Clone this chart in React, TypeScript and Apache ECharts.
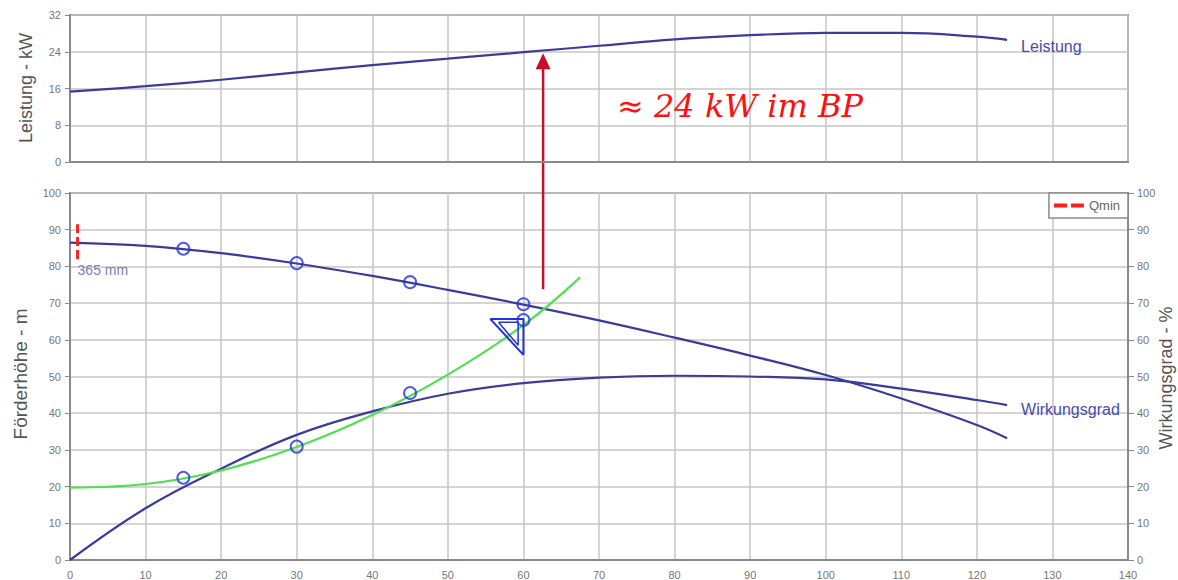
import React, { useEffect, useRef } from "react";
import * as echarts from "echarts";

// ---- data ----
const xTicks = [0, 10, 20, 30, 40, 50, 60, 70, 80, 90, 100, 110, 120, 130, 140];
const flowQ = [0, 10, 20, 30, 40, 50, 60, 70, 80, 90, 100, 110, 120, 124];
const leistungKW = [15.3, 16.5, 17.9, 19.5, 21.1, 22.5, 23.9, 25.3, 26.7, 27.6, 28.1, 28.1, 27.3, 26.6];
const foerderhoeheM = [86.5, 85.6, 83.6, 80.8, 77.4, 73.6, 69.6, 65.3, 60.6, 55.7, 50.4, 44.0, 36.8, 33.2];
const wirkungsgradPct = [0, 14.1, 24.9, 34.1, 40.5, 45.3, 48.2, 49.7, 50.2, 50.0, 49.2, 46.7, 43.6, 42.2];
const anlageQ = [0, 10, 20, 30, 40, 50, 60, 67.5];
const anlageH = [19.7, 20.7, 24.4, 30.8, 39.5, 50.5, 64.0, 77.0];
const messQ = [15, 30, 45, 60, 15, 30, 45, 60];
const messH = [84.8, 80.9, 75.7, 69.7, 22.4, 30.9, 45.5, 65.4];
const qminQ = [1, 1];
const qminH = [82, 91.5];
const bpOuterQ = [55.6, 60, 60, 55.6];
const bpOuterH = [65.7, 65.7, 55.9, 65.7];
const bpInnerQ = [56.7, 59.3, 59.3, 56.7];
const bpInnerH = [64.8, 64.8, 58.5, 64.8];
const laufradLabel = "365 mm";
const laufradQ = 1;
const laufradH = 79;
const arrowQ = 62.6;
const arrowFromH = 73.8;
const arrowToKW = 23.7;

const zip = (a: number[], b: number[]) => a.map((v, i) => [v, b[i]]);

const curveColor = "#3b3b9b";
const markColor = "#2233dd";
const gridColor = "#c6c6c6";
const axisColor = "#8a8a8a";
const tickLabel = { color: "#777", fontSize: 11, fontFamily: "Liberation Sans" };

export default function App() {
  const ref = useRef<HTMLDivElement>(null);
  useEffect(() => {
    if (!ref.current) return;
    const chart = echarts.init(ref.current, undefined, { renderer: "svg" });
    const option: any = {
      animation: false,
      backgroundColor: "#ffffff",
      grid: [
        { left: 70, top: 15, width: 1058, height: 147, show: true, borderColor: axisColor, borderWidth: 2 },
        { left: 70, top: 193, width: 1058, height: 368, show: true, borderColor: axisColor, borderWidth: 2 },
      ],
      legend: {
        data: [{ name: "Qmin", icon: "path://M0,0h13v4h-13z M17,0h13v4h-13z" }],
        right: 50,
        top: 193,
        itemWidth: 30,
        itemHeight: 4,
        itemGap: 4,
        padding: [6, 8, 6, 5],
        borderColor: axisColor,
        borderWidth: 1.5,
        backgroundColor: "#fff",
        textStyle: { color: "#666", fontSize: 13, fontFamily: "Liberation Sans" },
      },
      xAxis: [
        {
          gridIndex: 0, type: "value", min: 0, max: 140, interval: 10,
          axisLine: { lineStyle: { color: axisColor, width: 2 } },
          axisTick: { show: false }, axisLabel: { show: false },
          splitLine: { lineStyle: { color: gridColor, width: 1.5 } },
        },
        {
          gridIndex: 1, type: "value", min: 0, max: 140, interval: 10,
          axisLine: { lineStyle: { color: axisColor, width: 2 } },
          axisTick: { show: false },
          axisLabel: { ...tickLabel, margin: 9, formatter: (v: number) => (xTicks.includes(v) ? String(v) : "") },
          splitLine: { lineStyle: { color: gridColor, width: 1.5 } },
        },
      ],
      yAxis: [
        {
          gridIndex: 0, type: "value", min: 0, max: 32, interval: 8,
          axisLine: { show: true, lineStyle: { color: axisColor, width: 2 } },
          axisTick: { show: true, length: 5, lineStyle: { color: axisColor } },
          axisLabel: { ...tickLabel, margin: 9 },
          splitLine: { lineStyle: { color: gridColor, width: 1.5 } },
        },
        {
          gridIndex: 1, type: "value", min: 0, max: 100, interval: 10,
          axisLine: { show: true, lineStyle: { color: axisColor, width: 2 } },
          axisTick: { show: true, length: 5, lineStyle: { color: axisColor } },
          axisLabel: { ...tickLabel, margin: 9 },
          splitLine: { lineStyle: { color: gridColor, width: 1.5 } },
        },
        {
          gridIndex: 1, type: "value", position: "right", min: 0, max: 100, interval: 10,
          axisLine: { show: true, lineStyle: { color: axisColor, width: 2 } },
          axisTick: { show: true, length: 6, lineStyle: { color: axisColor } },
          axisLabel: { ...tickLabel, margin: 9 },
          splitLine: { show: false },
        },
      ],
      series: [
        {
          name: "Leistung", type: "line", xAxisIndex: 0, yAxisIndex: 0, smooth: 0.4, symbol: "none",
          data: zip(flowQ, leistungKW),
          lineStyle: { color: curveColor, width: 2.2 },
          endLabel: { show: true, formatter: "Leistung", color: "#4a4aac", fontSize: 16, fontFamily: "Liberation Sans", offset: [6, 7] },
        },
        {
          name: "Förderhöhe", type: "line", xAxisIndex: 1, yAxisIndex: 1, smooth: 0.4, symbol: "none",
          data: zip(flowQ, foerderhoeheM),
          lineStyle: { color: curveColor, width: 2.2 },
        },
        {
          name: "Wirkungsgrad", type: "line", xAxisIndex: 1, yAxisIndex: 2, smooth: 0.4, symbol: "none",
          data: zip(flowQ, wirkungsgradPct),
          lineStyle: { color: curveColor, width: 2.2 },
          endLabel: { show: true, formatter: "Wirkungsgrad", color: "#4a4aac", fontSize: 16, fontFamily: "Liberation Sans", offset: [6, 4] },
        },
        {
          name: "Anlagenkennlinie", type: "line", xAxisIndex: 1, yAxisIndex: 1, smooth: 0.4, symbol: "none",
          data: zip(anlageQ, anlageH),
          lineStyle: { color: "#4fe04f", width: 2.2 },
        },
        {
          name: "Qmin", type: "line", xAxisIndex: 1, yAxisIndex: 1, symbol: "none",
          data: zip(qminQ, qminH),
          lineStyle: { color: "#ff2020", width: 3, type: [9, 4] },
          itemStyle: { color: "#ff2020" },
        },
        {
          name: "BP", type: "line", xAxisIndex: 1, yAxisIndex: 1, symbol: "none",
          data: zip(bpOuterQ, bpOuterH),
          lineStyle: { color: markColor, width: 2 },
        },
        {
          name: "BP2", type: "line", xAxisIndex: 1, yAxisIndex: 1, symbol: "none",
          data: zip(bpInnerQ, bpInnerH),
          lineStyle: { color: markColor, width: 1.5 },
        },
        {
          name: "Messpunkte", type: "scatter", xAxisIndex: 1, yAxisIndex: 1,
          symbol: "circle", symbolSize: 12,
          data: zip(messQ, messH),
          itemStyle: { color: "rgba(255,255,255,0)", borderColor: markColor, borderWidth: 2 },
          z: 5,
        },
        {
          name: "Laufrad", type: "scatter", xAxisIndex: 1, yAxisIndex: 1, symbolSize: 0,
          data: [[laufradQ, laufradH]],
          label: {
            show: true, position: "right", distance: 0, formatter: laufradLabel,
            color: "#5a5aa8", fontSize: 14, fontFamily: "Liberation Sans",
          },
        },
      ],
    };
    chart.setOption(option);

    const p1 = chart.convertToPixel({ gridIndex: 1 }, [arrowQ, arrowFromH]) as number[];
    const p2 = chart.convertToPixel({ gridIndex: 0 }, [arrowQ, arrowToKW]) as number[];
    const headLen = 16;
    const headHalf = 7.5;
    const red = "#c8102e";
    chart.setOption({
      graphic: [
        {
          type: "line",
          shape: { x1: p1[0], y1: p1[1], x2: p2[0], y2: p2[1] + headLen - 1 },
          style: { stroke: red, lineWidth: 2.5 },
        },
        {
          type: "polygon",
          shape: { points: [[p2[0], p2[1]], [p2[0] - headHalf, p2[1] + headLen], [p2[0] + headHalf, p2[1] + headLen]] },
          style: { fill: red },
        },
        {
          type: "text", x: 617, y: 106,
          style: {
            text: "≈ 24 kW im BP", fill: "#ff1010", fontSize: 32, fontStyle: "italic",
            fontFamily: "DejaVu Serif", verticalAlign: "middle", align: "left",
          },
        },
        {
          type: "text", x: 26, y: 88, rotation: Math.PI / 2,
          style: { text: "Leistung - kW", fill: "#555", fontSize: 18, fontFamily: "Liberation Sans", align: "center", verticalAlign: "middle" },
        },
        {
          type: "text", x: 20, y: 374, rotation: Math.PI / 2,
          style: { text: "Förderhöhe - m", fill: "#555", fontSize: 19, fontFamily: "Liberation Sans", align: "center", verticalAlign: "middle" },
        },
        {
          type: "text", x: 1166, y: 378, rotation: Math.PI / 2,
          style: { text: "Wirkungsgrad - %", fill: "#555", fontSize: 18, fontFamily: "Liberation Sans", align: "center", verticalAlign: "middle" },
        },
      ],
    });
    return () => chart.dispose();
  }, []);
  return <div ref={ref} style={{ position: "absolute", left: 0, top: 0, width: 1178, height: 580 }} />;
}
